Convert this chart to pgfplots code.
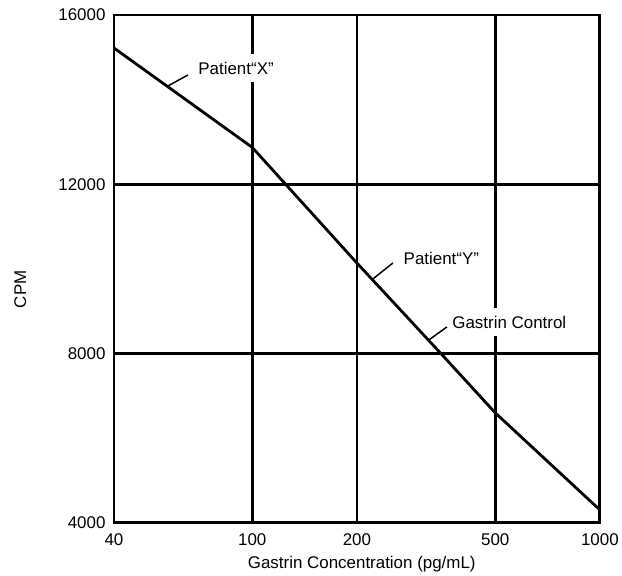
\documentclass[border=0pt]{standalone}
\usepackage{fontspec}
\setmainfont{Liberation Sans}
\usepackage{pgfplots}
\pgfplotsset{compat=1.18}
\newcommand{\f}{\fontsize{17}{20}\selectfont}
\begin{document}
\begin{tikzpicture}
\begin{axis}[
  at={(0,0)}, anchor=south west,
  scale only axis,
  width=486bp, height=508bp,
  xmode=log, log basis x=10,
  xmin=40, xmax=1000, ymin=4000, ymax=16000,
  scaled y ticks=false,
  xtick={40,100,200,500,1000},
  xticklabels={40,100,200,500,1000},
  ytick={4000,8000,12000,16000},
  yticklabels={4000,8000,12000,16000},
  major tick length=0pt,
  grid=major,
  grid style={black, line width=2.6bp},
  axis line style={black, line width=2.8bp},
  /pgf/number format/assume math mode=true,
  tick label style={font=\f, black},
  yticklabel style={xshift=-5bp},
  xticklabel style={yshift=-7bp},
  xlabel={Gastrin Concentration (pg/mL)},
  ylabel={CPM},
  label style={font=\f},
  xlabel style={at={(axis description cs:0.51,0)}, anchor=center, yshift=-41bp},
  ylabel style={at={(axis description cs:-0.193,0.46)}, anchor=center, rotate=0},
  clip=false,
]
\addplot[black, line width=2.8bp, line join=round] coordinates {
  (40,15220) (100,12870) (200,10140) (349,8000) (500,6600) (1000,4306)
};
\draw[black, line width=1.5bp] (axis cs:57.2,14323) -- (axis cs:65.3,14583);
\draw[black, line width=1.5bp] (axis cs:222,9760) -- (axis cs:254,10141);
\draw[black, line width=1.5bp] (axis cs:322,8320) -- (axis cs:363,8629);
\node[fill=white, inner xsep=1bp, inner ysep=8bp, font=\f] at (axis cs:89.8,14748) {Patient“X”};
\node[fill=white, inner xsep=1bp, inner ysep=3bp, font=\f] at (axis cs:350,10259) {Patient“Y”};
\node[fill=white, inner xsep=1bp, inner ysep=8bp, font=\f] at (axis cs:549,8747) {Gastrin Control};
\end{axis}
\path (-114bp,-52bp) rectangle (508bp,523bp);
\end{tikzpicture}
\end{document}
